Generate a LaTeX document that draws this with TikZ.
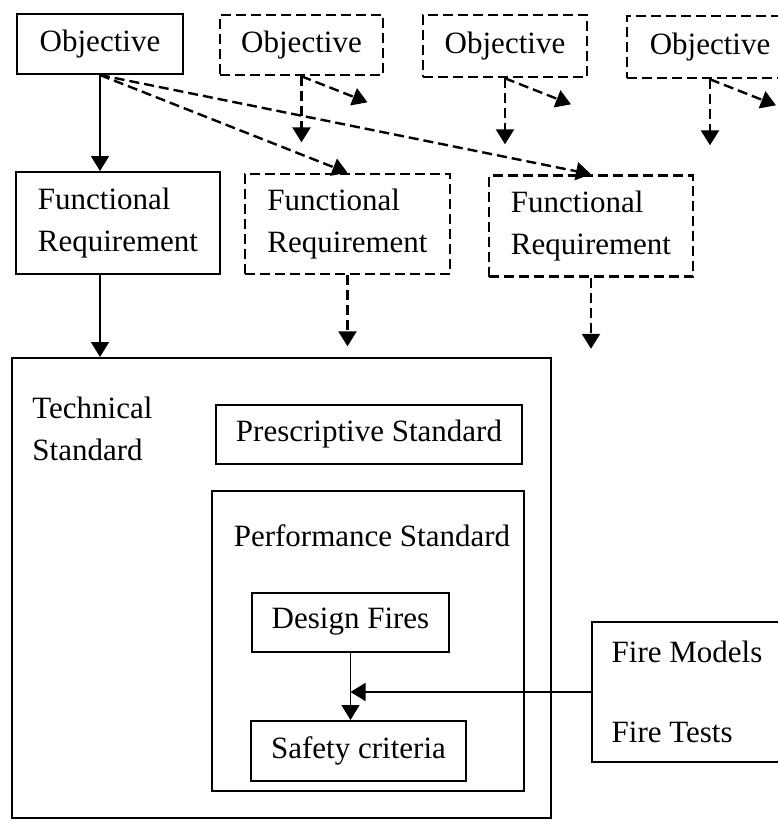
\documentclass[tikz,border=0pt]{standalone}
\usepackage{fontspec}
\setmainfont{Liberation Serif}
\usetikzlibrary{arrows.meta,positioning,calc}

\begin{document}
\begin{tikzpicture}[x=0.5pt,y=-0.5pt,
    font=\fontsize{15.5}{21}\selectfont,
    solidbox/.style={draw, line width=1pt, inner sep=0pt, align=left},
    dashbox/.style={draw, line width=1.3pt, dash pattern=on 5pt off 2.5pt,
                    inner sep=0pt, align=left},
    flow/.style={-{Triangle[length=7.5pt,width=9pt]}, line width=0.9pt},
    dflow/.style={flow, line width=1.2pt, dash pattern=on 5pt off 2.5pt}]
  \path[use as bounding box] (0,0) rectangle (778,821);
  \clip (0,0) rectangle (778,821);

  \node[solidbox, minimum width=83pt, minimum height=30pt] (obja) at (100,44) {Objective};
  \node[dashbox, minimum width=81.5pt, minimum height=30pt] (objb) at (301.5,45) {Objective};
  \node[dashbox, minimum width=82pt, minimum height=31pt] (objc) at (505,46) {Objective};
  \node[dashbox, minimum width=83pt, minimum height=31pt] (objd) at (710,47) {Objective};

  \node[solidbox, minimum width=102pt, minimum height=51pt] (funa) at (118,223) {Functional\\Requirement};
  \node[dashbox, minimum width=102.5pt, minimum height=50pt] (funb) at (347.5,224) {Functional\\Requirement};
  \node[dashbox, minimum width=102pt, minimum height=50.5pt] (func) at (591,226) {Functional\\Requirement};

  \node[solidbox, minimum width=269.5pt, minimum height=230pt] (tech) at (281.5,588) {};
  \node[anchor=base west, align=left, inner sep=0pt] (techlbl)
    at ($(tech.north west)+(21,103)$) {Technical\\Standard};
  \node[solidbox, minimum width=153pt, minimum height=29.5pt] (presc) at (369,434) {Prescriptive Standard};
  \node[solidbox, minimum width=156pt, minimum height=150pt] (perf) at (368,641) {};
  \node[inner sep=0pt] (perflbl) at ($(perf.north)+(4,46)$) {Performance Standard};
  \node[solidbox, minimum width=98.5pt, minimum height=29.5pt] (design) at (350.5,622) {Design Fires};
  \node[solidbox, minimum width=107.5pt, minimum height=30pt] (safety) at (358.5,751) {Safety criteria};

  \node[solidbox, minimum width=95pt, minimum height=70pt] (fire) at (687,692) {Fire Models\\[19pt]Fire Tests};

  \draw[flow] (obja.south) -- (obja.south |- funa.north);
  \draw[dflow] (obja.south) -- (funb.north);
  \draw[dflow] (obja.south) -- (func.north);
  \foreach \o in {objb,objc,objd} {
    \coordinate (\o-down) at ($(\o.south)+(0,66)$);
    \coordinate (\o-side) at ($(\o.south)+(66,26)$);
    \draw[dflow] (\o.south) -- (\o-down);
    \draw[dflow] (\o.south) -- (\o-side);
  }

  \draw[flow] (obja.south |- funa.south) -- (obja.south |- tech.north);
  \foreach \f in {funb,func} {
    \coordinate (\f-down) at ($(\f.south)+(0,71)$);
    \draw[dflow] (\f.south) -- (\f-down);
  }

  \coordinate (join) at (design.south |- fire.west);
  \draw[flow, line width=0.7pt] (design.south) -- (design.south |- safety.north);
  \draw[flow] (fire.west) -- (join);
\end{tikzpicture}
\end{document}
